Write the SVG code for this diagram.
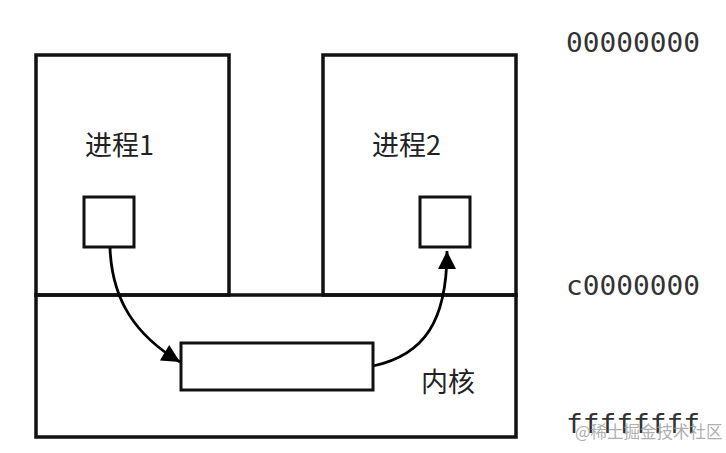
<svg xmlns="http://www.w3.org/2000/svg" width="726" height="453" viewBox="0 0 726 453">
<style>
.box{fill:none;stroke:#111;stroke-width:3.5}
.sbox{fill:#fff;stroke:#111;stroke-width:3}
.lbl{font-family:"Noto Sans CJK SC","Noto Sans",sans-serif;font-size:27px;fill:#222}
.hex{font-family:"DejaVu Sans Mono",monospace;font-size:27px;fill:#333}
.conn{fill:none;stroke:#000;stroke-width:2.8}
</style>
<defs>
<marker id="ah" viewBox="0 0 10 10" refX="10" refY="5" markerWidth="22" markerHeight="18" markerUnits="userSpaceOnUse" orient="auto">
<path d="M0,0 L10,5 L0,10 z" fill="#000"/>
</marker>
</defs>
<rect width="726" height="453" fill="#fff"/>
<g id="kernel">
<rect class="box" x="36" y="295" width="480" height="142"/>
<text class="lbl" x="421" y="392">内核</text>
</g>
<g id="process1">
<rect class="box" x="36" y="55" width="193" height="240"/>
<text class="lbl" x="85" y="155">进程1</text>
</g>
<g id="process2">
<rect class="box" x="323" y="55" width="193" height="240"/>
<text class="lbl" x="372" y="155">进程2</text>
</g>
<g id="buf1"><rect class="sbox" x="84" y="197" width="50" height="50"/></g>
<g id="buf2"><rect class="sbox" x="420" y="197" width="50" height="50"/></g>
<g id="kbuf"><rect class="sbox" x="181" y="343" width="192" height="47"/></g>
<g id="connectors">
<path class="conn" d="M110,248 C112,300 135,335 180,362" marker-end="url(#ah)"/>
<path class="conn" d="M373,366 C425,355 447,320 447,251" marker-end="url(#ah)"/>
</g>
<g id="addresses">
<text class="hex" x="566" y="52" textLength="134" lengthAdjust="spacingAndGlyphs">00000000</text>
<text class="hex" x="566" y="295" textLength="134" lengthAdjust="spacingAndGlyphs">c0000000</text>
<text class="hex" x="566" y="433" textLength="134" lengthAdjust="spacingAndGlyphs">ffffffff</text>
</g>
<text x="575" y="438" font-family="Noto Sans CJK SC, sans-serif" font-size="16.5" fill="#999" fill-opacity="0.8">@稀土掘金技术社区</text>
</svg>
